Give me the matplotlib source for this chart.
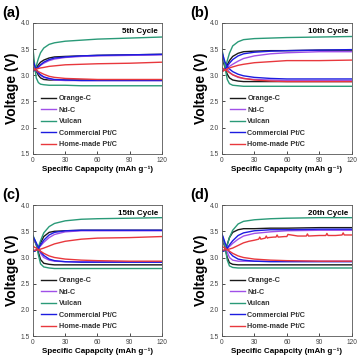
import matplotlib
matplotlib.use("Agg")
import matplotlib.pyplot as plt

plt.rcParams['font.family'] = ['Liberation Sans', 'DejaVu Sans']
narrow = ['Liberation Sans Narrow', 'Liberation Sans', 'DejaVu Sans']

capacity = [0, 1, 2, 3, 5, 7, 10, 15, 20, 30, 45, 60, 90, 120]

materials = ['Orange-C', 'Nd-C', 'Vulcan', 'Commercial Pt/C', 'Home-made Pt/C']
colors = ['#1a1a1a', '#a050e8', '#2a9a78', '#1c1ce0', '#e8383d']
panel_labels = ['(a)', '(b)', '(c)', '(d)']
cycle_titles = ['5th Cycle', '10th Cycle', '15th Cycle', '20th Cycle']

# charge (upper) curves, one list per material
charge_5 = [
    [3.08, 3.09, 3.11, 3.14, 3.20, 3.25, 3.29, 3.33, 3.35, 3.36, 3.37, 3.38, 3.39, 3.40],
    [3.08, 3.09, 3.10, 3.12, 3.15, 3.19, 3.23, 3.28, 3.31, 3.34, 3.36, 3.37, 3.38, 3.39],
    [3.08, 3.09, 3.12, 3.18, 3.32, 3.43, 3.52, 3.59, 3.62, 3.65, 3.67, 3.69, 3.71, 3.73],
    [3.08, 3.09, 3.10, 3.12, 3.16, 3.20, 3.25, 3.30, 3.33, 3.35, 3.37, 3.38, 3.39, 3.40],
    [3.10, 3.10, 3.11, 3.12, 3.13, 3.14, 3.15, 3.17, 3.18, 3.20, 3.21, 3.22, 3.23, 3.25],
]
discharge_5 = [
    [3.30, 3.22, 3.14, 3.08, 3.00, 2.95, 2.92, 2.91, 2.91, 2.91, 2.91, 2.91, 2.91, 2.91],
    [3.25, 3.20, 3.14, 3.10, 3.04, 3.00, 2.96, 2.93, 2.91, 2.90, 2.90, 2.90, 2.90, 2.90],
    [3.50, 3.30, 3.10, 2.95, 2.86, 2.83, 2.82, 2.81, 2.81, 2.81, 2.80, 2.80, 2.80, 2.80],
    [3.28, 3.22, 3.16, 3.11, 3.05, 3.01, 2.97, 2.94, 2.92, 2.91, 2.90, 2.90, 2.90, 2.90],
    [3.15, 3.13, 3.11, 3.10, 3.07, 3.05, 3.02, 2.98, 2.96, 2.94, 2.93, 2.92, 2.92, 2.92],
]

charge_10 = [
    [3.08, 3.09, 3.10, 3.12, 3.20, 3.28, 3.36, 3.42, 3.45, 3.46, 3.47, 3.47, 3.48, 3.48],
    [3.08, 3.09, 3.10, 3.11, 3.14, 3.17, 3.21, 3.27, 3.32, 3.37, 3.41, 3.43, 3.45, 3.45],
    [3.08, 3.09, 3.10, 3.13, 3.28, 3.42, 3.56, 3.64, 3.68, 3.70, 3.71, 3.72, 3.73, 3.74],
    [3.08, 3.09, 3.10, 3.12, 3.17, 3.23, 3.30, 3.37, 3.41, 3.44, 3.46, 3.47, 3.48, 3.49],
    [3.08, 3.08, 3.09, 3.10, 3.12, 3.14, 3.16, 3.19, 3.21, 3.24, 3.26, 3.28, 3.28, 3.29],
]
discharge_10 = [
    [3.35, 3.28, 3.21, 3.14, 3.02, 2.95, 2.91, 2.89, 2.88, 2.88, 2.88, 2.88, 2.88, 2.88],
    [3.40, 3.33, 3.26, 3.20, 3.12, 3.06, 3.01, 2.96, 2.94, 2.92, 2.91, 2.90, 2.90, 2.90],
    [3.50, 3.40, 3.28, 3.14, 2.92, 2.84, 2.81, 2.80, 2.79, 2.79, 2.79, 2.79, 2.79, 2.79],
    [3.45, 3.38, 3.31, 3.25, 3.17, 3.12, 3.07, 3.02, 2.99, 2.96, 2.94, 2.93, 2.93, 2.93],
    [3.15, 3.13, 3.12, 3.11, 3.08, 3.05, 3.01, 2.97, 2.94, 2.91, 2.89, 2.88, 2.88, 2.88],
]

charge_15 = [
    [3.12, 3.12, 3.13, 3.14, 3.18, 3.28, 3.40, 3.48, 3.50, 3.51, 3.52, 3.52, 3.52, 3.52],
    [3.12, 3.12, 3.13, 3.14, 3.17, 3.22, 3.29, 3.38, 3.44, 3.49, 3.51, 3.51, 3.51, 3.51],
    [3.12, 3.12, 3.13, 3.14, 3.20, 3.32, 3.47, 3.59, 3.65, 3.70, 3.73, 3.74, 3.75, 3.76],
    [3.12, 3.12, 3.13, 3.14, 3.18, 3.24, 3.33, 3.43, 3.48, 3.51, 3.52, 3.52, 3.52, 3.52],
    [3.14, 3.14, 3.14, 3.14, 3.15, 3.16, 3.18, 3.22, 3.26, 3.31, 3.35, 3.37, 3.38, 3.40],
]
discharge_15 = [
    [3.38, 3.34, 3.29, 3.24, 3.10, 2.96, 2.89, 2.87, 2.86, 2.86, 2.86, 2.86, 2.86, 2.86],
    [3.38, 3.34, 3.30, 3.26, 3.17, 3.08, 3.00, 2.95, 2.93, 2.92, 2.92, 2.92, 2.92, 2.92],
    [3.42, 3.37, 3.32, 3.26, 3.05, 2.88, 2.82, 2.80, 2.79, 2.79, 2.79, 2.79, 2.79, 2.79],
    [3.40, 3.36, 3.32, 3.28, 3.19, 3.11, 3.04, 2.97, 2.94, 2.92, 2.91, 2.91, 2.91, 2.91],
    [3.22, 3.20, 3.19, 3.18, 3.15, 3.12, 3.08, 3.03, 3.00, 2.97, 2.95, 2.94, 2.93, 2.93],
]

charge_20 = [
    [3.12, 3.12, 3.13, 3.15, 3.25, 3.38, 3.48, 3.53, 3.55, 3.55, 3.56, 3.56, 3.57, 3.57],
    [3.12, 3.12, 3.13, 3.14, 3.17, 3.21, 3.27, 3.35, 3.41, 3.46, 3.49, 3.51, 3.52, 3.52],
    [3.12, 3.12, 3.13, 3.15, 3.24, 3.38, 3.52, 3.64, 3.69, 3.72, 3.74, 3.75, 3.76, 3.76],
    [3.12, 3.12, 3.13, 3.14, 3.18, 3.24, 3.32, 3.42, 3.47, 3.51, 3.53, 3.53, 3.54, 3.54],
    None,  # home-made Pt/C has its own spiky trace below
]
discharge_20 = [
    [3.38, 3.32, 3.25, 3.18, 3.00, 2.90, 2.87, 2.86, 2.86, 2.86, 2.86, 2.86, 2.86, 2.86],
    [3.38, 3.33, 3.28, 3.22, 3.10, 3.00, 2.95, 2.93, 2.93, 2.93, 2.93, 2.93, 2.93, 2.93],
    [3.45, 3.38, 3.30, 3.20, 2.95, 2.84, 2.81, 2.80, 2.80, 2.80, 2.80, 2.80, 2.80, 2.80],
    [3.45, 3.40, 3.34, 3.28, 3.18, 3.10, 3.03, 2.97, 2.95, 2.93, 2.92, 2.92, 2.92, 2.92],
    [3.22, 3.20, 3.19, 3.18, 3.15, 3.12, 3.08, 3.03, 3.00, 2.97, 2.95, 2.94, 2.93, 2.93],
]

# home-made Pt/C, 20th cycle charge: noisy with small spikes
red_20_capacity = [0, 5, 10, 15, 20, 25, 30, 34, 35, 36, 40, 41, 42, 43, 48, 50, 51, 52,
                   58, 60, 61, 70, 78, 79, 80, 90, 96, 97, 98, 105, 111, 112, 113, 120]
red_20_charge = [3.14, 3.15, 3.18, 3.23, 3.28, 3.31, 3.33, 3.35, 3.39, 3.35, 3.37, 3.41,
                 3.37, 3.38, 3.39, 3.39, 3.43, 3.39, 3.40, 3.40, 3.44, 3.41, 3.41, 3.45,
                 3.41, 3.42, 3.42, 3.46, 3.42, 3.42, 3.43, 3.47, 3.43, 3.43]

charges = [charge_5, charge_10, charge_15, charge_20]
discharges = [discharge_5, discharge_10, discharge_15, discharge_20]

# axes boxes in figure fractions [left, bottom, width, height]
boxes = [
    [0.092, 0.576, 0.359, 0.361],
    [0.618, 0.576, 0.362, 0.361],
    [0.092, 0.074, 0.359, 0.361],
    [0.618, 0.074, 0.362, 0.361],
]

fig = plt.figure(figsize=(3.59, 3.63), dpi=100)

for i in range(4):
    ax = fig.add_axes(boxes[i])
    for k in range(len(materials)):
        if charges[i][k] is None:
            ax.plot(red_20_capacity, red_20_charge, color=colors[k], lw=1.0, label=materials[k])
        else:
            ax.plot(capacity, charges[i][k], color=colors[k], lw=1.0, label=materials[k])
        ax.plot(capacity, discharges[i][k], color=colors[k], lw=1.0)

    ax.set_xlim(0, 120)
    ax.set_ylim(1.5, 4.0)
    ax.set_xticks([0, 30, 60, 90, 120])
    ax.set_yticks([1.5, 2.0, 2.5, 3.0, 3.5, 4.0])
    ax.tick_params(direction='in', labelsize=4.8, length=2, width=0.5, pad=2,
                   labelcolor='#444444')
    for t in ax.get_xticklabels() + ax.get_yticklabels():
        t.set_family(narrow)
    for sp in ax.spines.values():
        sp.set_linewidth(0.6)
        sp.set_color('#555555')

    ax.set_xlabel('Specific Capapcity (mAh g\u207b\u00b9)', fontsize=5.8,
                  fontweight='bold', labelpad=1.5, family=narrow)
    ax.set_ylabel('Voltage (V)', fontsize=10, fontweight='bold', labelpad=1.5,
                  family=narrow)
    ax.text(0.97, 0.96, cycle_titles[i], transform=ax.transAxes, ha='right', va='top',
            fontsize=5.8, fontweight='bold')
    ax.text(-0.24, 1.13, panel_labels[i], transform=ax.transAxes, ha='left', va='top',
            fontsize=10.5, fontweight='bold')

    leg = ax.legend(loc='lower left', bbox_to_anchor=(0.03, 0.01), frameon=False,
                    prop={'size': 5.2, 'weight': 'bold'},
                    handlelength=2.0, handletextpad=0.4,
                    labelspacing=0.62, borderaxespad=0.2)
    for t in leg.get_texts():
        t.set_color('#333333')

fig.savefig('out.png', dpi=100)
